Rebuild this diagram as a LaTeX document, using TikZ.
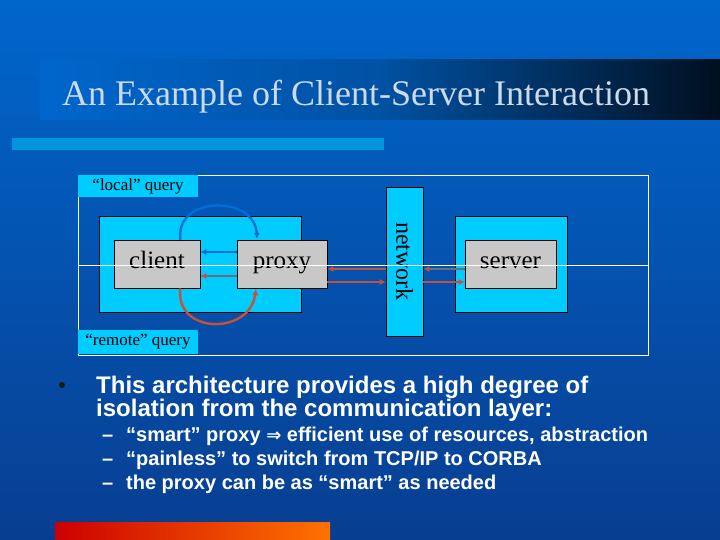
\documentclass[tikz,border=0pt]{standalone}
\usepackage{fontspec}
\setmainfont{Liberation Serif}
\setsansfont{Liberation Sans}
\newfontfamily\djv{DejaVu Sans}
\usetikzlibrary{arrows.meta}
\definecolor{bgtop}{RGB}{0,102,204}
\definecolor{bgbot}{RGB}{8,62,145}
\definecolor{cyanbox}{RGB}{0,204,255}
\definecolor{graybox}{RGB}{200,200,200}
\definecolor{arrred}{RGB}{200,80,55}
\definecolor{arrblue}{RGB}{0,110,210}
\definecolor{arrgray}{RGB}{110,110,120}
\definecolor{titlecol}{RGB}{205,218,238}
\definecolor{barblue}{RGB}{0,150,222}
\begin{document}
\begin{tikzpicture}[x=1pt,y=-1pt,
  gbox/.style={draw=black,fill=graybox,line width=0.6pt,font=\fontsize{25}{25}\selectfont,text height=13pt,text depth=5pt},
  lbl/.style={fill=cyanbox,font=\fontsize{17}{17}\selectfont,inner sep=0pt,anchor=center},
  redarr/.style={arrred,line width=2.4pt,-{Latex[length=6pt,width=6pt]}},
  grayarr/.style={arrgray,line width=2.4pt,-{Latex[length=6pt,width=6pt,color=arrred]}},
  bluearr/.style={arrblue,line width=2.4pt,-{Latex[length=6pt,width=6pt]}},
  bul/.style={anchor=base west,font=\sffamily\bfseries\fontsize{24}{24}\selectfont,text=white,inner sep=0pt},
  sub/.style={anchor=base west,font=\sffamily\bfseries\fontsize{20}{20}\selectfont,text=white,inner sep=0pt}]
\useasboundingbox (0,0) rectangle (720,540);
\shade[top color=bgtop,bottom color=bgbot] (0,0) rectangle (720,540);
% title bar
\shade[left color=bgtop,right color=black!85!bgtop,middle color=bgtop!80!black] (40,60) rectangle (720,120);
\node[anchor=base west,inner sep=0pt,text=titlecol,font=\fontsize{36}{36}\selectfont] (title) at (62,106) {An Example of Client-Server Interaction};
\fill[barblue] (12,138) rectangle (384,150);
% diagram frame
\draw[white,line width=0.8pt] (78,175) rectangle (648,355);
\fill[cyanbox] (99,216) rectangle (301,312);
\draw[black,line width=0.6pt] (99,216) rectangle (301,312);
\fill[cyanbox] (455,216) rectangle (567,312);
\draw[black,line width=0.6pt] (455,216) rectangle (567,312);
\node[draw=black,fill=cyanbox,line width=0.6pt,minimum width=37pt,minimum height=149pt,inner sep=0pt] (net) at (404.5,261.5) {};
\node[rotate=-90,font=\fontsize{24}{24}\selectfont] (nettxt) at (404.5,261.5) {network};
\node[gbox,minimum width=86pt,minimum height=48pt,inner sep=0pt] (client) at (157,264) {client};
\node[gbox,minimum width=90pt,minimum height=48pt,inner sep=0pt] (proxy) at (282,264) {proxy};
\node[gbox,minimum width=91pt,minimum height=48pt,inner sep=0pt] (server) at (510.5,264) {server};
\draw[white,line width=0.8pt] (78,265) -- (648,265);
\node[lbl,minimum width=120pt,minimum height=22pt] (local) at (138,186) {“local” query};
\node[lbl,minimum width=120pt,minimum height=24pt] (remote) at (138,342) {“remote” query};
% arrows
\draw[bluearr] (client.north east) ++(-20,0) .. controls (175,195) and (255,195) .. (257,239);
\draw[bluearr] (proxy.west |- 0,252) -- (client.east |- 0,252);
\draw[grayarr] (proxy.west |- 0,276) -- (client.east |- 0,276);
\draw[redarr] (client.south east) ++(-20,0) .. controls (175,335) and (250,335) .. (256,289);
\draw[redarr] (net.west |- 0,269) -- (proxy.east |- 0,269);
\draw[redarr] (proxy.east |- 0,282) -- (net.west |- 0,282);
\draw[grayarr] (server.west |- 0,269) -- (net.east |- 0,269);
\draw[redarr] (net.east |- 0,282) -- (server.west |- 0,282);
% bullets
\fill[black!90] (62,385) circle (3pt);
\node[bul] (b1) at (96,393) {This architecture provides a high degree of};
\node[bul] (b2) at (96,416) {isolation from the communication layer:};
\node[sub] (d1) at (102,441) {–};
\node[sub] (s1) at (126,441) {“smart” proxy {\djv\fontsize{18}{18}\selectfont ⇒} efficient use of resources, abstraction};
\node[sub] (d2) at (102,465) {–};
\node[sub] (s2) at (126,465) {“painless” to switch from TCP/IP to CORBA};
\node[sub] (d3) at (102,489) {–};
\node[sub] (s3) at (126,489) {the proxy can be as “smart” as needed};
\shade[left color=red!80!black,right color=orange!90!red] (55,522) rectangle (330,540);
\end{tikzpicture}
\end{document}
